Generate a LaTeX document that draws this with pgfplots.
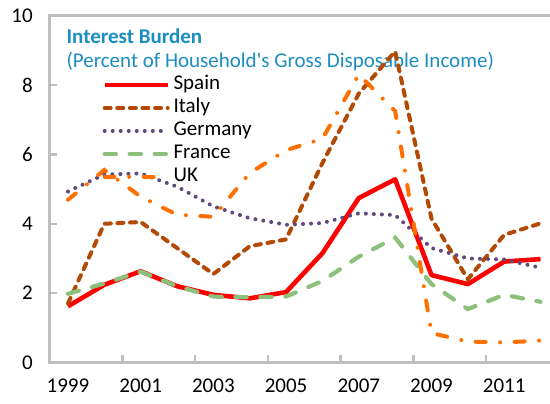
\documentclass[border=0pt]{standalone}
\usepackage{fontspec}
\setmainfont{Carlito}
\usepackage{pgfplots}
\pgfplotsset{compat=1.18}
\definecolor{axgray}{HTML}{BFBFBF}
\definecolor{ttlblue}{HTML}{1A8DC1}
\definecolor{spain}{HTML}{FF0000}
\definecolor{italy}{HTML}{B24A06}
\definecolor{germany}{HTML}{604A7B}
\definecolor{france}{HTML}{8DC07B}
\definecolor{uk}{HTML}{FF7000}
\newcommand{\chartfont}{\fontsize{10.5bp}{12bp}\selectfont}

\begin{document}
\begin{tikzpicture}
\begin{axis}[
  at={(0,0)}, anchor=south west,
  scale only axis, width=254.45bp, height=173.45bp,
  xmin=1998.5, xmax=2012.5, ymin=0, ymax=10,
  clip=false,
  axis line style={axgray, line width=1.5bp},
  tick pos=left, tick align=inside,
  xtick={1999,2001,...,2011},
  xticklabels={1999,2001,2003,2005,2007,2009,2011},
  major x tick style={draw=none},
  minor xtick={2000.5,2002.5,2004.5,2006.5,2008.5,2010.5},
  minor x tick style={axgray, line width=1.2bp},
  minor tick length=3.5bp,
  ytick={0,2,...,10},
  y tick style={axgray, line width=1.2bp},
  major tick length=3.5bp,
  tick label style={font=\chartfont, black},
  /pgf/number format/assume math mode=true,
  yticklabel style={xshift=-5bp},
  xticklabel style={yshift=-4.5bp},
  no markers,
  legend cell align=left,
  legend image code/.code={\draw[#1] (0bp,0bp) -- (31.5bp,0bp);},
  legend style={at={(axis cs:1999.935,8.34)}, anchor=north west,
    draw=none, fill=none, inner sep=0pt, row sep=0pt, column sep=0pt,
    font=\chartfont,
    nodes={inner ysep=0pt, inner xsep=1.8bp, text height=8.2bp, text depth=3.25bp}},
]
\node[anchor=base west, inner sep=0pt, text=ttlblue, font=\chartfont\bfseries]
  at (axis cs:1998.95,9.19) {Interest Burden};
\node[anchor=base west, inner sep=0pt, text=ttlblue, font=\chartfont]
  at (axis cs:1998.95,8.49) {(Percent of Household\textquotesingle s Gross Disposable Income)};

% Spain
\addplot[spain, line width=2.3bp, line join=round]
  coordinates {(1999,1.62)(2000,2.24)(2001,2.63)(2002,2.20)(2003,1.95)(2004,1.85)(2005,2.03)
               (2006,3.15)(2007,4.74)(2008,5.28)(2009,2.52)(2010,2.26)(2011,2.91)(2012,2.98)};
% Italy
\addplot[italy, line width=2bp, line cap=round, dash pattern=on 3bp off 3.3bp]
  coordinates {(1999,1.70)(2000,4.00)(2001,4.05)(2002,3.30)(2003,2.55)(2004,3.35)(2005,3.55)
               (2006,5.75)(2007,7.75)(2008,8.97)(2009,4.15)(2010,2.40)(2011,3.68)(2012,4.01)};
% Germany
\addplot[germany, line width=2bp, line cap=round, dash pattern=on 0.01bp off 4bp]
  coordinates {(1999,4.93)(2000,5.42)(2001,5.45)(2002,5.07)(2003,4.50)(2004,4.16)(2005,3.97)
               (2006,4.02)(2007,4.30)(2008,4.25)(2009,3.30)(2010,3.00)(2011,2.97)(2012,2.73)};
% France
\addplot[france, line width=2.1bp, line cap=round, dash pattern=on 5.65bp off 6.85bp]
  coordinates {(1999,1.98)(2000,2.28)(2001,2.62)(2002,2.20)(2003,1.90)(2004,1.88)(2005,1.90)
               (2006,2.35)(2007,3.05)(2008,3.60)(2009,2.26)(2010,1.54)(2011,1.95)(2012,1.75)};
% UK
\addplot[uk, line width=2bp, line cap=round, dash pattern=on 5bp off 7.25bp on 0.01bp off 7.25bp]
  coordinates {(1999,4.69)(2000,5.55)(2001,4.78)(2002,4.26)(2003,4.20)(2004,5.46)(2005,6.12)
               (2006,6.45)(2007,8.30)(2008,7.25)(2009,0.85)(2010,0.60)(2011,0.58)(2012,0.63)};
\legend{Spain,Italy,Germany,France,UK}
\end{axis}
\pgfresetboundingbox
\path (-24.9bp,-20.75bp) rectangle (250.1bp,181.25bp);
\end{tikzpicture}
\end{document}
